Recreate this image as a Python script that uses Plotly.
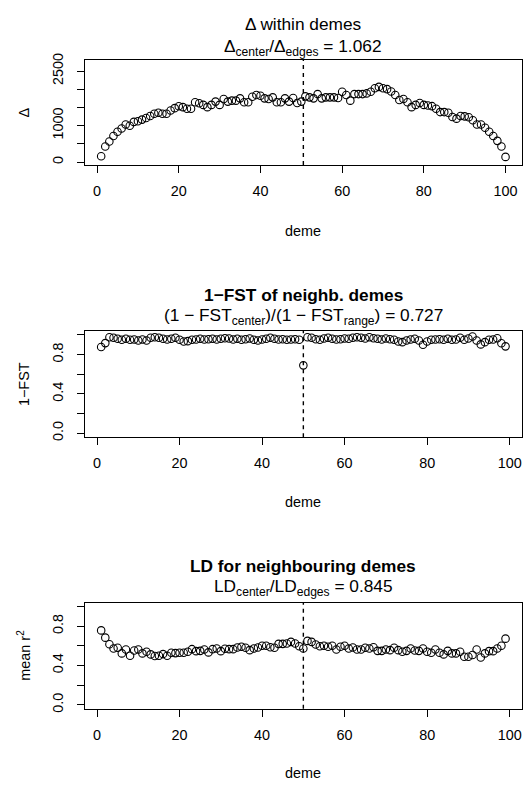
import plotly.graph_objects as go

W, H = 524, 787

# ---- data ----
demes_delta = list(range(1, 101))
delta_vals = [162, 431, 566, 718, 835, 925, 1033, 997, 1105, 1122,
              1167, 1212, 1266, 1329, 1356, 1329, 1329, 1419, 1482, 1535,
              1509, 1464, 1464, 1643, 1616, 1571, 1509, 1571, 1661, 1571,
              1733, 1661, 1688, 1688, 1751, 1643, 1643, 1796, 1841, 1823,
              1751, 1733, 1778, 1643, 1643, 1751, 1661, 1760, 1625, 1661,
              1805, 1778, 1751, 1868, 1751, 1778, 1778, 1778, 1760, 1931,
              1841, 1688, 1868, 1868, 1868, 1886, 1931, 2029, 2065, 2029,
              2003, 1940, 1841, 1706, 1733, 1643, 1509, 1571, 1625, 1571,
              1554, 1536, 1464, 1374, 1374, 1356, 1239, 1194, 1266, 1257,
              1230, 1149, 1033, 1033, 943, 835, 718, 584, 431, 144]

demes_pair = list(range(1, 100))
fst_vals = [0.877, 0.916, 0.976, 0.970, 0.960, 0.950, 0.960, 0.950, 0.953, 0.943,
            0.953, 0.943, 0.970, 0.976, 0.970, 0.960, 0.953, 0.960, 0.970, 0.950,
            0.933, 0.936, 0.950, 0.953, 0.960, 0.953, 0.956, 0.960, 0.953, 0.960,
            0.966, 0.963, 0.953, 0.960, 0.950, 0.956, 0.963, 0.950, 0.943, 0.953,
            0.960, 0.970, 0.960, 0.953, 0.956, 0.950, 0.953, 0.956, 0.950, 0.690,
            0.976, 0.970, 0.956, 0.950, 0.963, 0.970, 0.960, 0.953, 0.956, 0.963,
            0.960, 0.970, 0.976, 0.970, 0.963, 0.976, 0.966, 0.960, 0.953, 0.963,
            0.956, 0.950, 0.933, 0.926, 0.943, 0.953, 0.960, 0.943, 0.900, 0.933,
            0.950, 0.953, 0.956, 0.950, 0.960, 0.950, 0.953, 0.970, 0.950, 0.963,
            0.983, 0.943, 0.903, 0.926, 0.950, 0.953, 0.966, 0.915, 0.883]

ld_vals = [0.757, 0.683, 0.616, 0.573, 0.580, 0.523, 0.563, 0.499, 0.553, 0.563,
           0.523, 0.539, 0.513, 0.496, 0.499, 0.516, 0.499, 0.529, 0.526, 0.529,
           0.529, 0.539, 0.566, 0.546, 0.549, 0.563, 0.533, 0.566, 0.573, 0.546,
           0.570, 0.566, 0.566, 0.583, 0.590, 0.580, 0.556, 0.573, 0.583, 0.600,
           0.600, 0.586, 0.580, 0.620, 0.620, 0.623, 0.640, 0.623, 0.596, 0.573,
           0.650, 0.640, 0.613, 0.596, 0.600, 0.590, 0.600, 0.563, 0.590, 0.600,
           0.573, 0.583, 0.563, 0.563, 0.580, 0.573, 0.586, 0.549, 0.549, 0.563,
           0.556, 0.580, 0.556, 0.539, 0.549, 0.573, 0.553, 0.549, 0.573, 0.539,
           0.529, 0.563, 0.529, 0.513, 0.549, 0.523, 0.523, 0.539, 0.489, 0.489,
           0.506, 0.563, 0.482, 0.523, 0.546, 0.546, 0.573, 0.600, 0.673]

center_delta = 50.5
center_pair = 50

x_ticks = [0, 20, 40, 60, 80, 100]
delta_ticks = [0, 500, 1000, 1500, 2000, 2500]
delta_ticktext = ["0", "", "1000", "", "", "2500"]
frac_ticks = [0, 0.2, 0.4, 0.6, 0.8, 1.0]
frac_ticktext = ["0.0", "", "0.4", "", "0.8", ""]

# ---- layout geometry (pixels) ----
FONT = "Liberation Sans, Arial, Helvetica, sans-serif"
BASE = 14.4
XL, XR = 85, 521.7
boxes = [(53.5, 160.3), (328.5, 436.3), (604.0, 711.7)]


def py(p):
    return 1 - p / H


fig = go.Figure()
marker = dict(symbol="circle-open", size=7.5, color="black", line=dict(width=1.1, color="black"))

fig.add_trace(go.Scatter(x=demes_delta, y=delta_vals, mode="markers", marker=marker,
                         xaxis="x", yaxis="y", showlegend=False))
fig.add_trace(go.Scatter(x=demes_pair, y=fst_vals, mode="markers", marker=marker,
                         xaxis="x2", yaxis="y2", showlegend=False))
fig.add_trace(go.Scatter(x=demes_pair, y=ld_vals, mode="markers", marker=marker,
                         xaxis="x3", yaxis="y3", showlegend=False))

axis_common = dict(showline=True, linecolor="black", linewidth=1, mirror=True,
                   ticks="outside", ticklen=7, tickwidth=1, tickcolor="black",
                   showgrid=False, zeroline=False,
                   tickfont=dict(family=FONT, size=BASE, color="black"))

xranges = [[1 - 0.04 * 99, 100 + 0.04 * 99], [1 - 0.04 * 98, 99 + 0.04 * 98], [1 - 0.04 * 98, 99 + 0.04 * 98]]
yranges = [[-80, 2810], [-0.04, 1.04], [-0.04, 1.04]]
yticks = [(delta_ticks, delta_ticktext), (frac_ticks, frac_ticktext), (frac_ticks, frac_ticktext)]

layout = dict(width=W, height=H, margin=dict(l=0, r=0, t=0, b=0),
              paper_bgcolor="white", plot_bgcolor="white", showlegend=False)
for i in range(3):
    sx = "" if i == 0 else str(i + 1)
    top, bot = boxes[i]
    layout["xaxis" + sx] = dict(axis_common, domain=[XL / W, XR / W], range=xranges[i],
                                tickvals=x_ticks, anchor="y" + sx, ticklabelstandoff=6)
    layout["yaxis" + sx] = dict(axis_common, domain=[py(bot), py(top)], range=yranges[i],
                                tickvals=yticks[i][0], ticktext=yticks[i][1], tickangle=-90,
                                anchor="x" + sx, ticklabelstandoff=8)
fig.update_layout(**layout)

# dashed centre lines
for i, c in enumerate([center_delta, center_pair, center_pair]):
    sx = "" if i == 0 else str(i + 1)
    fig.add_shape(type="line", x0=c, x1=c, y0=0, y1=1, xref="x" + sx, yref="y" + sx + " domain",
                  line=dict(color="black", width=1.4, dash="4px,4px"))

# texts
xc = (XL + XR) / 2 / W
titles = [
    ("Δ within demes", False, "Δ<sub>center</sub>/Δ<sub>edges</sub> = 1.062", 17.5, 41.5),
    ("1−FST of neighb. demes", True,
     "(1 − FST<sub>center</sub>)/(1 − FST<sub>range</sub>) = 0.727", 292.0, 314.0),
    ("LD for neighbouring demes", True, "LD<sub>center</sub>/LD<sub>edges</sub> = 0.845", 566.5, 589.0),
]
ylabels = ["Δ", "1−FST", "mean r<sup>2</sup>"]
xlabel_y = [226.7, 501.7, 776.7]

for i in range(3):
    t, bold, sub, ty, sy = titles[i]
    fig.add_annotation(x=xc, y=py(ty), xref="paper", yref="paper", showarrow=False,
                       text=("<b>%s</b>" % t) if bold else t, xanchor="center", yanchor="middle",
                       font=dict(family=FONT, size=17.3, color="black"))
    fig.add_annotation(x=xc, y=py(sy), xref="paper", yref="paper", showarrow=False,
                       text=sub, xanchor="center", yanchor="middle",
                       font=dict(family=FONT, size=17.3, color="black"))
    top, bot = boxes[i]
    fig.add_annotation(x=24 / W, y=py((top + bot) / 2), xref="paper", yref="paper", showarrow=False,
                       text=ylabels[i], textangle=-90, xanchor="center", yanchor="middle",
                       font=dict(family=FONT, size=BASE, color="black"))
    fig.add_annotation(x=xc, y=py(xlabel_y[i]), xref="paper", yref="paper", showarrow=False,
                       text="deme", xanchor="center", yanchor="middle",
                       font=dict(family=FONT, size=BASE, color="black"))

fig.write_html("out.html")
